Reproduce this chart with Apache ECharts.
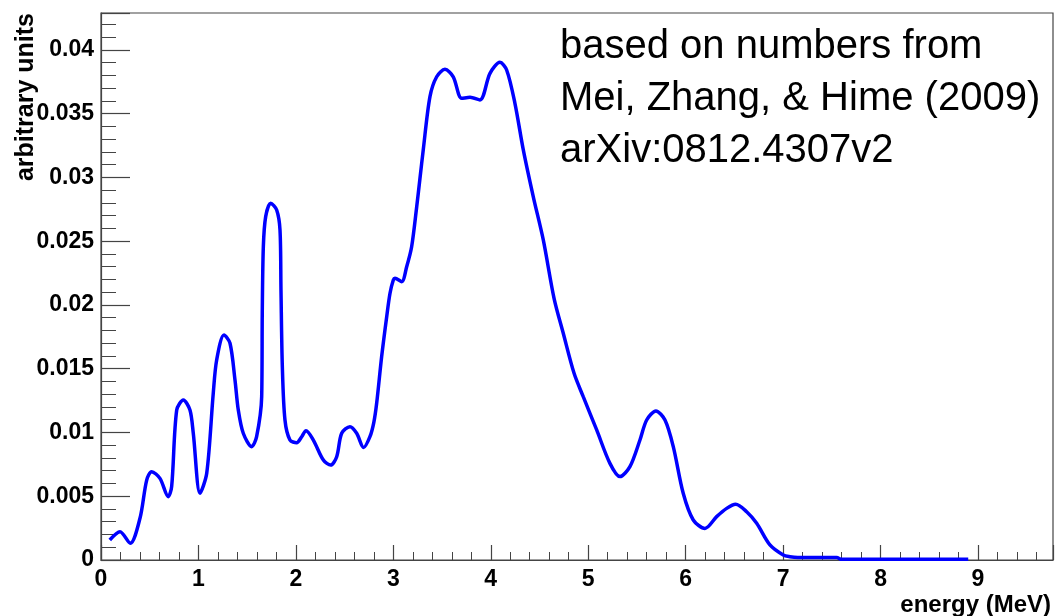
<!DOCTYPE html>
<html>
<head>
<meta charset="utf-8">
<script src="https://cdn.jsdelivr.net/npm/echarts@6/dist/echarts.min.js"></script>
<style>
  html, body { margin: 0; padding: 0; background: #fff; }
  #main { width: 1056px; height: 616px; }
</style>
</head>
<body>
<div id="main"></div>
<script>
// energy (MeV) and spectrum height
const energy = [
  0.09, 0.195, 0.3, 0.40, 0.469, 0.52, 0.605, 0.69, 0.725, 0.777,
  0.845, 0.913, 0.947, 1.016, 1.085, 1.152, 1.187, 1.262, 1.324, 1.375,
  1.409, 1.46, 1.546, 1.597, 1.649, 1.655, 1.666, 1.69, 1.741, 1.803,
  1.837, 1.847, 1.861, 1.888, 1.939, 2.008, 2.06, 2.104, 2.179, 2.282,
  2.357, 2.419, 2.47, 2.555, 2.624, 2.695, 2.76, 2.8, 2.829, 2.88,
  2.932, 2.966, 3.0, 3.017, 3.086, 3.137, 3.188, 3.24, 3.273, 3.307,
  3.376, 3.445, 3.53, 3.615, 3.701, 3.787, 3.889, 3.992, 4.094, 4.163,
  4.248, 4.334, 4.436, 4.539, 4.65, 4.744, 4.855, 4.949, 5.087, 5.223,
  5.326, 5.428, 5.531, 5.6, 5.695, 5.788, 5.873, 5.975, 6.078, 6.198,
  6.318, 6.421, 6.513, 6.626, 6.729, 6.865, 7.002, 7.07, 7.15, 7.55,
  7.6, 8.9
];
const counts = [
  0.00157, 0.00222, 0.00131, 0.00327, 0.00627, 0.00693, 0.0064, 0.00497, 0.00575, 0.01176,
  0.01255, 0.01176, 0.00994, 0.00523, 0.0068, 0.01307, 0.01569, 0.01765, 0.017, 0.01412,
  0.01176, 0.00994, 0.00889, 0.00967, 0.01281, 0.01935, 0.02457, 0.02693, 0.02798, 0.02745,
  0.02588, 0.02118, 0.01516, 0.01098, 0.00941, 0.0092, 0.00967, 0.01014, 0.00941, 0.00784,
  0.00745, 0.0081, 0.00994, 0.01046, 0.00994, 0.00882, 0.00967, 0.0108, 0.01229, 0.01594,
  0.01908, 0.02092, 0.02196, 0.02209, 0.02183, 0.023, 0.02457, 0.02771, 0.0299, 0.03216,
  0.03634, 0.0379, 0.03848, 0.0379, 0.03621, 0.03629, 0.03608, 0.03817, 0.03903, 0.03843,
  0.03582, 0.03216, 0.0285, 0.0251, 0.0205, 0.01778, 0.01464, 0.01281, 0.0102, 0.00758,
  0.00654, 0.00732, 0.00941, 0.01098, 0.01169, 0.01098, 0.00889, 0.00523, 0.00314, 0.00248,
  0.0034, 0.00405, 0.00437, 0.00379, 0.00288, 0.00118, 0.00039, 0.00026, 0.0002, 0.0002,
  0.00005, 0.00005
];
const noteLines = [
  'based on numbers from',
  'Mei, Zhang, & Hime (2009)',
  'arXiv:0812.4307v2'
];

const chart = echarts.init(document.getElementById('main'));
const axisColor = '#444';
const labelFont = { color: '#000', fontFamily: 'Liberation Sans, Arial', fontWeight: 'bold', fontSize: 23 };

const option = {
  animation: false,
  grid: {
    left: 101, right: 3, top: 13, bottom: 56,
    show: true, borderColor: axisColor, borderWidth: 1.2, backgroundColor: '#fff'
  },
  xAxis: {
    type: 'value',
    min: 0,
    max: 9.77,
    interval: 1,
    axisLine: { show: true, onZero: false, lineStyle: { color: axisColor, width: 1.2 } },
    axisTick: { show: true, inside: true, length: 15, lineStyle: { color: axisColor, width: 1.2 } },
    minorTick: { show: true, splitNumber: 5, length: 8, lineStyle: { color: axisColor, width: 1 } },
    splitLine: { show: false },
    axisLabel: Object.assign({ margin: 8, showMaxLabel: false }, labelFont)
  },
  yAxis: {
    type: 'value',
    min: 0,
    max: 0.0429,
    interval: 0.005,
    axisLine: { show: true, lineStyle: { color: axisColor, width: 1.2 } },
    axisTick: { show: true, inside: true, length: 29, lineStyle: { color: axisColor, width: 1.2 } },
    minorTick: { show: true, splitNumber: 5, length: 15, lineStyle: { color: axisColor, width: 1 } },
    splitLine: { show: false },
    axisLabel: Object.assign({ margin: 7, showMaxLabel: false }, labelFont)
  },
  series: [{
    type: 'line',
    data: energy.map((e, i) => [e, counts[i]]),
    showSymbol: false,
    smooth: 0.3,
    lineStyle: { color: '#0000ff', width: 3.5 },
    itemStyle: { color: '#0000ff' }
  }],
  graphic: [
    {
      type: 'text', left: 560, top: 21,
      style: {
        text: noteLines.join('\n'),
        fill: '#000', font: '40px "Liberation Sans", Arial', lineHeight: 52
      }
    },
    {
      type: 'text', x: 1051, y: 593,
      style: { text: 'energy (MeV)', fill: '#000', font: 'bold 24px "Liberation Sans", Arial', align: 'right' }
    },
    {
      type: 'text', x: 14, y: 13, rotation: Math.PI / 2,
      style: {
        text: 'arbitrary units', fill: '#000', font: 'bold 25px "Liberation Sans", Arial',
        align: 'right', verticalAlign: 'top'
      }
    }
  ]
};
chart.setOption(option);
</script>
</body>
</html>
